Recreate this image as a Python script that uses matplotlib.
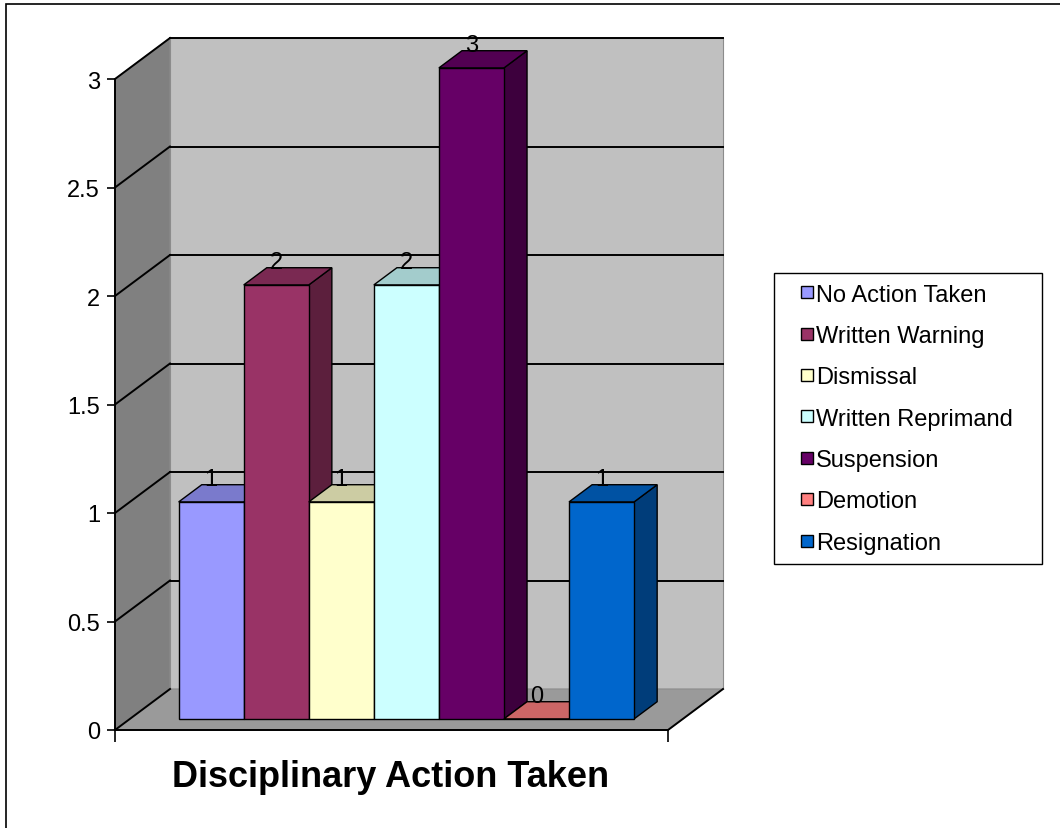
import matplotlib
matplotlib.use("Agg")
import matplotlib.pyplot as plt
from matplotlib.patches import Polygon, Rectangle
from matplotlib.lines import Line2D
from matplotlib.colors import to_rgb

# data
categories = ["No Action Taken", "Written Warning", "Dismissal", "Written Reprimand",
              "Suspension", "Demotion", "Resignation"]
counts = [1, 2, 1, 2, 3, 0, 1]
colors = ["#9999FF", "#993366", "#FFFFCC", "#CCFFFF", "#660066", "#FF8080", "#0066CC"]
yticks = [0, 0.5, 1, 1.5, 2, 2.5, 3]
xlabel = "Disciplinary Action Taken"

plt.rcParams['font.family'] = ['Liberation Sans', 'DejaVu Sans']

W, H, DPI = 1060, 829, 100
fig = plt.figure(figsize=(W / DPI, H / DPI), dpi=DPI)
ax = fig.add_axes([115 / W, 98 / H, 553 / W, 651 / H])

xmin, xmax = -1.25, len(categories) - 1 + 1.25
ymin, ymax = yticks[0], yticks[-1]
ax.set_xlim(xmin, xmax)
ax.set_ylim(ymin, ymax)
ax.patch.set_visible(False)

# depth of the fake 3d box, pixels -> data units
pos = ax.get_position()
depth_px = (55, 41)
ddx = depth_px[0] * (xmax - xmin) / (pos.width * W)
ddy = depth_px[1] * (ymax - ymin) / (pos.height * H)


def proj(x, y, d):
    # d = 0 front plane, d = 1 back wall
    return (x + d * ddx, y + d * ddy)


def shade(c, k):
    r, g, b = to_rgb(c)
    return (r * k, g * k, b * k)


# walls and floor
left_wall = [proj(xmin, ymin, 0), proj(xmin, ymin, 1), proj(xmin, ymax, 1), proj(xmin, ymax, 0)]
back_wall = [proj(xmin, ymin, 1), proj(xmax, ymin, 1), proj(xmax, ymax, 1), proj(xmin, ymax, 1)]
floor = [proj(xmin, ymin, 0), proj(xmax, ymin, 0), proj(xmax, ymin, 1), proj(xmin, ymin, 1)]
for pts, fc in ((back_wall, '#c0c0c0'), (left_wall, '#808080'), (floor, '#9a9a9a')):
    ax.add_patch(Polygon(pts, closed=True, facecolor=fc, edgecolor='#8c8c8c',
                         lw=0.8, zorder=1, clip_on=False))

a, b = proj(xmax, ymin, 0), proj(xmax, ymin, 1)
ax.plot([a[0], b[0]], [a[1], b[1]], color='black', lw=1.4, zorder=2, clip_on=False)

# gridlines on side wall and back wall
for v in yticks:
    a, b, c = proj(xmin, v, 0), proj(xmin, v, 1), proj(xmax, v, 1)
    ax.plot([a[0], b[0]], [a[1], b[1]], color='black', lw=1.4, zorder=2, clip_on=False)
    if v > ymin:
        ax.plot([b[0], c[0]], [b[1], c[1]], color='black', lw=1.4, zorder=2, clip_on=False)

# bars
d_front, d_back = 0.27, 0.69
for i, (v, c) in enumerate(zip(counts, colors)):
    x0, x1 = i - 0.5, i + 0.5
    front = [proj(x0, 0, d_front), proj(x1, 0, d_front), proj(x1, v, d_front), proj(x0, v, d_front)]
    top = [proj(x0, v, d_front), proj(x1, v, d_front), proj(x1, v, d_back), proj(x0, v, d_back)]
    side = [proj(x1, 0, d_front), proj(x1, 0, d_back), proj(x1, v, d_back), proj(x1, v, d_front)]
    for pts, k in ((side, 0.6), (top, 0.8), (front, 1.0)):
        ax.add_patch(Polygon(pts, closed=True, facecolor=shade(c, k), edgecolor='black',
                             lw=1.0, zorder=3 + i, clip_on=False))
    lx = proj(i, v, d_front)[0]
    ly = proj(i, v, d_back)[1]
    ax.text(lx, ly, f'{v:g}', ha='center', va='baseline', fontsize=17,
            zorder=20, clip_on=False)

# axes
for s in ('top', 'right'):
    ax.spines[s].set_visible(False)
for s in ('left', 'bottom'):
    ax.spines[s].set_linewidth(1.4)
    ax.spines[s].set_zorder(15)
ax.set_yticks(yticks, labels=[f'{v:g}' for v in yticks])
ax.set_xticks([xmin, xmax], labels=['', ''])
ax.tick_params(axis='y', length=5.8, width=1.2, labelsize=17, pad=5)
ax.tick_params(axis='x', length=8.6, width=1.2)

fig.text(390.5 / W, (H - 787) / H, xlabel, ha='center', va='baseline',
         fontsize=26, fontweight='bold')

# legend
handles = [Line2D([], [], linestyle='none', marker='s', markersize=8.6,
                  markerfacecolor=c, markeredgecolor='black', markeredgewidth=1)
           for c in colors]
leg = fig.legend(handles, categories, loc='upper left',
                 bbox_to_anchor=(774 / W, 1 - 274 / H, 268 / W, 0), mode='expand',
                 borderaxespad=0, fontsize=17, frameon=True, fancybox=False,
                 edgecolor='black', framealpha=1, borderpad=0.45, labelspacing=0.82,
                 handlelength=1.9, handletextpad=-0.57, numpoints=1)
leg.get_frame().set_linewidth(1)

# outer chart frame
fig.add_artist(Rectangle((6 / W, -0.05), 1.1, (H - 5) / H + 0.05, transform=fig.transFigure,
                         fill=False, edgecolor='black', lw=1.2))

fig.savefig('out.png', dpi=DPI)
